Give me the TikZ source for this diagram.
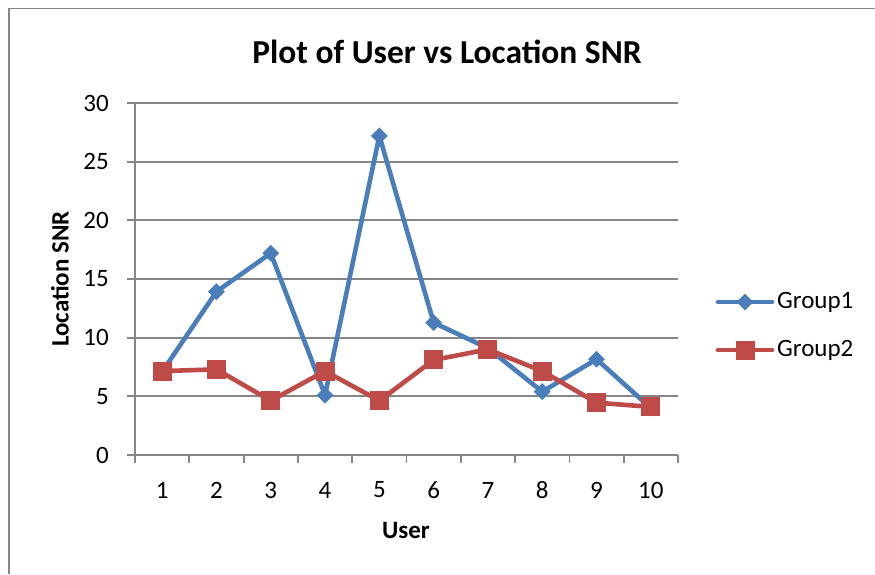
\documentclass[tikz,border=0pt]{standalone}
\usepackage{fontspec}
\setmainfont{Carlito}
\usetikzlibrary{shapes.geometric}
\definecolor{gblue}{HTML}{4A7EBB}
\definecolor{gred}{HTML}{BE4B48}
\definecolor{ggrid}{HTML}{868686}
\begin{document}
\begin{tikzpicture}[x=1pt,y=-1pt,
  gridline/.style={ggrid,line width=1.8pt},
  frameline/.style={ggrid,line width=1.5pt},
  bluel/.style={gblue,line width=4.6pt,line join=round},
  redl/.style={gred,line width=4.6pt,line join=round},
  diam/.style={diamond,fill=gblue,inner sep=0pt,minimum width=17pt,minimum height=17pt},
  sq/.style={rectangle,fill=gred,inner sep=0pt,minimum size=19pt},
  ticklab/.style={font=\fontsize{25}{30}\selectfont,inner sep=0pt},
  axtitle/.style={font=\fontsize{25}{30}\selectfont\bfseries,inner sep=0pt},
  titlestyle/.style={font=\fontsize{33.5}{40}\selectfont\bfseries,inner sep=0pt}]
\useasboundingbox (0,0) rectangle (875,574);
\draw[frameline] (9,574) -- (9,8.5) -- (875,8.5);
% gridlines and y ticks
\foreach \v in {0,5,...,30}{
  \draw[gridline] (127,{455-11.733*\v}) -- (678,{455-11.733*\v});
  \node[ticklab,anchor=east] (yl\v) at (109,{455-11.733*\v}) {\v};
}
\draw[gridline] (135,103) -- (135,463);
\foreach \k in {1,...,10}{
  \draw[gridline] ({135+54.3*\k},455) -- ({135+54.3*\k},463);
  \node[ticklab] (xl\k) at ({135+54.3*(\k-0.5)},490) {\k};
}
% data
\foreach \i/\a/\b in {1/7.1/7.15,2/13.92/7.3,3/17.2/4.63,4/5.1/7.15,5/27.2/4.63,6/11.28/8.1,7/9.1/9.0,8/5.4/7.15,9/8.16/4.46,10/4.0/4.1}{
  \coordinate (a\i) at ({135+54.3*(\i-0.5)},{455-11.733*\a});
  \coordinate (b\i) at ({135+54.3*(\i-0.5)},{455-11.733*\b});
}
\draw[bluel] (a1)--(a2)--(a3)--(a4)--(a5)--(a6)--(a7)--(a8)--(a9)--(a10);
\foreach \i in {1,...,10}{\node[diam] (da\i) at (a\i) {};}
\draw[redl] (b1)--(b2)--(b3)--(b4)--(b5)--(b6)--(b7)--(b8)--(b9)--(b10);
\foreach \i in {1,...,10}{\node[sq] (sb\i) at (b\i) {};}
% titles
\node[titlestyle] (title) at (447,52) {Plot of User vs Location SNR};
\node[axtitle] (xtitle) at (406,530) {User};
\node[axtitle,rotate=90] (ytitle) at (60,279) {Location SNR};
% legend
\coordinate (l1s) at (718,302); \coordinate (l1e) at (772,302);
\draw[bluel,line cap=round] (l1s) -- (l1e);
\node[diam] (ld1) at (745,302) {};
\node[ticklab,anchor=west] (lt1) at (777,302) {Group1};
\coordinate (l2s) at (718,350); \coordinate (l2e) at (772,350);
\draw[redl,line cap=round] (l2s) -- (l2e);
\node[sq] (ls2) at (745,350) {};
\node[ticklab,anchor=west] (lt2) at (777,350) {Group2};
\end{tikzpicture}
\end{document}
